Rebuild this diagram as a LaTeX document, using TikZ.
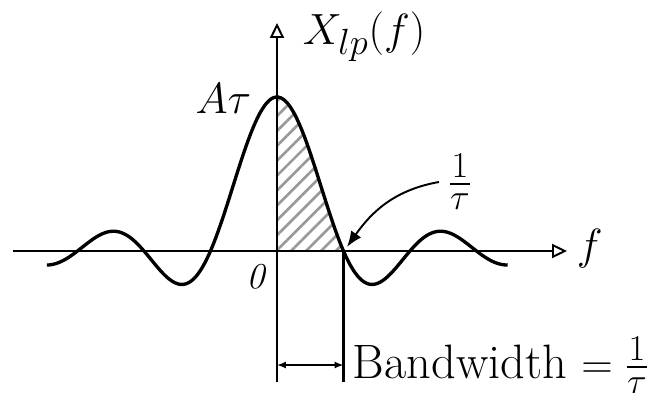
\documentclass[tikz,border=0pt]{standalone}
\usepackage{amsmath,amssymb}
\usepackage{tikz}
\usetikzlibrary{arrows.meta,patterns.meta}

\begin{document}
\begin{tikzpicture}[x=0.02cm,y=0.02cm,
  lbl/.style={font=\fontsize{27.5}{32}\selectfont,inner sep=2pt},
  axis/.style={line width=1.1pt,-{Triangle[open,length=8.5pt,width=8pt]}},
  curve/.style={line width=1.9pt},
  guide/.style={line width=1.2pt}]
  \useasboundingbox (-277,-142) rectangle (377,251);
  \fill[pattern={Lines[angle=45,distance=6pt,line width=1.5pt]},pattern color=gray!80]
    (0,0) -- plot[domain=0.002:1,samples=60] (66.5*\x,{154*sin(180*\x)/(pi*\x)}) -- cycle;
  \draw[axis] (-264,0) -- (290,0) coordinate (fx);
  \draw[axis] (0,-131) -- (0,228) coordinate (fy);
  \draw[curve] plot[domain=-3.46:3.47,samples=200] (66.5*\x,{154*sin(180*(\x+0.0003))/(pi*(\x+0.0003))});
  \coordinate (t1) at (66.5,0);
  \coordinate (t2) at (66.5,-131);
  \draw[guide] (t1) -- (t2);
  \coordinate (b0) at (0,-114);
  \coordinate (b1) at (66.5,-114);
  \draw[guide,{Latex[length=5pt,width=4pt]}-{Latex[length=5pt,width=4pt]}] (b0) -- (b1);
  \node[lbl,anchor=west] (ylab) at (22,214) {$X_{lp}(f)$};
  \node[lbl,anchor=west] (flab) at (296,2) {$f$};
  \node[lbl,anchor=east] (peak) at (-22,152) {$A\tau$};
  \node[font=\fontsize{21}{25}\selectfont,inner sep=1pt] (orig) at (-19,-26) {$\mathit{0}$};
  \node[lbl,anchor=base west] (bwlab) at (72,-127) {Bandwidth $=\frac{1}{\tau}$};
  \node[lbl,inner sep=5pt] (tau) at (183,69) {$\frac{1}{\tau}$};
  \coordinate (fz) at (70,4);
  \draw[line width=1.1pt,-{Latex[length=9pt,width=7pt]}] (tau.west) to[out=190,in=55] (fz);
\end{tikzpicture}
\end{document}
